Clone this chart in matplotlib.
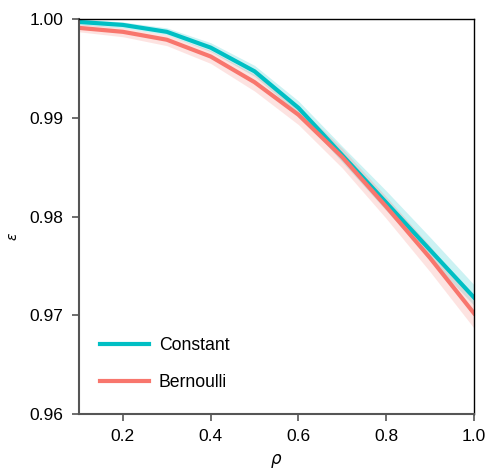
import numpy as np
import matplotlib.pyplot as plt

plt.rcParams['font.family'] = ['Liberation Sans', 'DejaVu Sans']

rho = [0.1, 0.2, 0.3, 0.4, 0.5, 0.6, 0.7, 0.8, 0.9, 1.0]

const_mean = [0.9997, 0.9994, 0.9987, 0.9971, 0.9947, 0.9910, 0.9862, 0.9814, 0.9766, 0.9718]
const_lo = [0.9994, 0.9991, 0.9984, 0.9967, 0.9942, 0.9904, 0.9855, 0.9806, 0.9757, 0.9710]
const_hi = [1.0000, 0.9997, 0.9991, 0.9976, 0.9953, 0.9917, 0.9871, 0.9826, 0.9779, 0.9731]

bern_mean = [0.9991, 0.9987, 0.9979, 0.9962, 0.9936, 0.9903, 0.9860, 0.9810, 0.9758, 0.9702]
bern_lo = [0.9987, 0.9982, 0.9973, 0.9955, 0.9927, 0.9893, 0.9849, 0.9798, 0.9744, 0.9687]
bern_hi = [0.9995, 0.9991, 0.9984, 0.9968, 0.9944, 0.9911, 0.9869, 0.9820, 0.9770, 0.9714]

c_const = '#00BFC4'
c_bern = '#F8766D'

fig = plt.figure(figsize=(4.89, 4.70), dpi=100)
ax = fig.add_axes([0.1616, 0.1191, 0.8077, 0.8405])

# confidence bands under the mean lines
ax.fill_between(rho, const_lo, const_hi, color=c_const, alpha=0.2, lw=0)
ax.fill_between(rho, bern_lo, bern_hi, color=c_bern, alpha=0.2, lw=0)
ax.plot(rho, const_mean, color=c_const, lw=3, label='Constant')
ax.plot(rho, bern_mean, color=c_bern, lw=3, label='Bernoulli')

ax.set_xlim(0.1, 1.0)
ax.set_ylim(0.96, 1.0)
ax.set_xticks([0.2, 0.4, 0.6, 0.8, 1.0])
ax.set_yticks([0.96, 0.97, 0.98, 0.99, 1.00])
ax.set_xticklabels(['0.2', '0.4', '0.6', '0.8', '1.0'])
ax.set_yticklabels(['0.96', '0.97', '0.98', '0.99', '1.00'])
ax.tick_params(direction='out', length=5, width=1.2, color='#555555',
               labelsize=12.5, pad=6)

for s in ['left', 'bottom']:
    ax.spines[s].set_color('#555555')
    ax.spines[s].set_linewidth(1.5)
for s in ['top', 'right']:
    ax.spines[s].set_color('black')
    ax.spines[s].set_linewidth(1.0)

ax.legend(loc='lower left', frameon=False, fontsize=12.7, handlelength=2.8,
          labelspacing=1.15, bbox_to_anchor=(0.012, 0.017), handletextpad=0.55)

fig.text(0.027, 0.497, r'$\varepsilon$', fontsize=10, rotation=90, va='center', ha='center')
fig.text(0.565, 0.0, r'$\rho$', fontsize=12, va='bottom', ha='center')

fig.savefig('out.png', dpi=100)
